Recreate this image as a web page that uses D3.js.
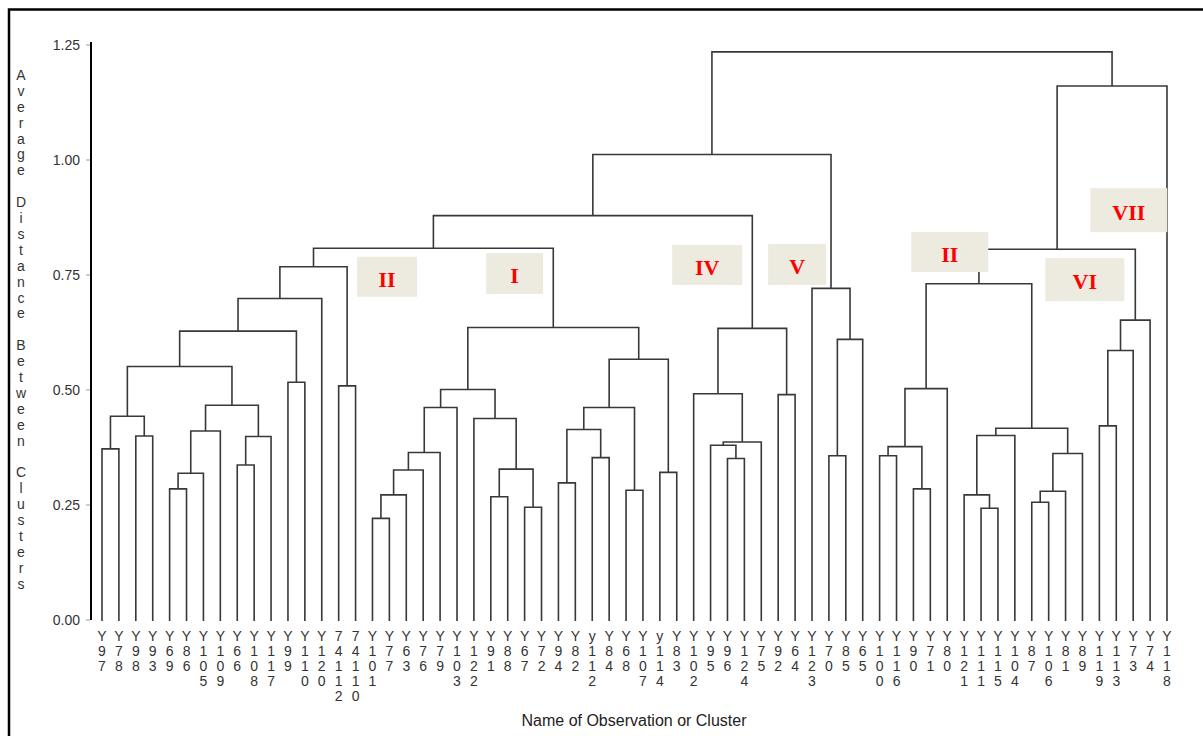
<!DOCTYPE html>
<html>
<head>
<meta charset="utf-8">
<script src="https://cdnjs.cloudflare.com/ajax/libs/d3/7.9.0/d3.min.js"></script>
<style>
  html, body { margin: 0; padding: 0; background: #fff; }
  svg { display: block; }
</style>
</head>
<body>
<div id="chart"></div>
<script>
// Folhas na ordem do eixo X (exatamente como aparecem no gráfico)
const FOLHAS = [
  "Y97", "Y78", "Y98", "Y93", "Y69", "Y86", "Y105", "Y109", "Y66", "Y108",
  "Y117", "Y99", "Y110", "Y120", "74112", "74110", "Y101", "Y77", "Y63", "Y76",
  "Y79", "Y103", "Y122", "Y91", "Y88", "Y67", "Y72", "Y94", "Y82", "y112",
  "Y84", "Y68", "Y107", "y114", "Y83", "Y102", "Y95", "Y96", "Y124", "Y75",
  "Y92", "Y64", "Y123", "Y70", "Y85", "Y65", "Y100", "Y116", "Y90", "Y71",
  "Y80", "Y121", "Y111", "Y115", "Y104", "Y87", "Y106", "Y81", "Y89", "Y119",
  "Y113", "Y73", "Y74", "Y118",
];

// Fusões: [nó, filho A, filho B, distância média entre clusters]
const FUSOES = [
  // grupo II (esquerda)
  ["a1", "Y97", "Y78", 0.372],
  ["a2", "Y98", "Y93", 0.400],
  ["a3", "a1", "a2", 0.443],
  ["a4", "Y69", "Y86", 0.285],
  ["a5", "a4", "Y105", 0.319],
  ["a6", "a5", "Y109", 0.411],
  ["a7", "Y66", "Y108", 0.337],
  ["a8", "a7", "Y117", 0.399],
  ["a9", "a6", "a8", 0.467],
  ["a10", "a3", "a9", 0.551],
  ["a11", "Y99", "Y110", 0.517],
  ["a12", "a10", "a11", 0.628],
  ["a13", "a12", "Y120", 0.699],
  ["a14", "74112", "74110", 0.509],
  ["a15", "a13", "a14", 0.768],
  // grupo I
  ["b1", "Y101", "Y77", 0.221],
  ["b2", "b1", "Y63", 0.272],
  ["b3", "b2", "Y76", 0.326],
  ["b4", "b3", "Y79", 0.364],
  ["b5", "b4", "Y103", 0.462],
  ["b6", "Y91", "Y88", 0.268],
  ["b7", "Y67", "Y72", 0.245],
  ["b8", "b6", "b7", 0.328],
  ["b9", "Y122", "b8", 0.438],
  ["b10", "b5", "b9", 0.501],
  ["b11", "Y94", "Y82", 0.298],
  ["b12", "y112", "Y84", 0.353],
  ["b13", "b11", "b12", 0.414],
  ["b14", "Y68", "Y107", 0.282],
  ["b15", "b13", "b14", 0.462],
  ["b16", "y114", "Y83", 0.321],
  ["b17", "b15", "b16", 0.567],
  ["b18", "b10", "b17", 0.636],
  ["p1", "a15", "b18", 0.808],
  // grupo IV
  ["c1", "Y96", "Y124", 0.351],
  ["c2", "Y95", "c1", 0.380],
  ["c3", "c2", "Y75", 0.387],
  ["c4", "Y102", "c3", 0.492],
  ["c5", "Y92", "Y64", 0.490],
  ["c6", "c4", "c5", 0.634],
  ["p2", "p1", "c6", 0.879],
  // grupo V
  ["d1", "Y70", "Y85", 0.357],
  ["d2", "d1", "Y65", 0.610],
  ["d3", "Y123", "d2", 0.721],
  ["p3", "p2", "d3", 1.012],
  // grupo II (direita)
  ["e1", "Y100", "Y116", 0.357],
  ["e2", "Y90", "Y71", 0.285],
  ["e3", "e1", "e2", 0.377],
  ["e4", "e3", "Y80", 0.503],
  ["e5", "Y111", "Y115", 0.243],
  ["e6", "Y121", "e5", 0.272],
  ["e7", "e6", "Y104", 0.401],
  ["e8", "Y87", "Y106", 0.256],
  ["e9", "e8", "Y81", 0.280],
  ["e10", "e9", "Y89", 0.362],
  ["e11", "e7", "e10", 0.417],
  ["e12", "e4", "e11", 0.731],
  // grupo VI
  ["f1", "Y119", "Y113", 0.422],
  ["f2", "f1", "Y73", 0.586],
  ["f3", "f2", "Y74", 0.652],
  ["p4", "e12", "f3", 0.806],
  // grupo VII (Y118 sozinho) e raiz
  ["p5", "p4", "Y118", 1.161],
  ["raiz", "p3", "p5", 1.235],
];

const TICKS_Y = [0, 0.25, 0.5, 0.75, 1.0, 1.25];

// Rótulos dos grupos (caixas bege com algarismos romanos)
const GRUPOS = ["II", "I", "IV", "V", "II", "VI", "VII"];

const TITULO_Y = "Average Distance Between Clusters";
const TITULO_X = "Name of Observation or Cluster";

// --- layout ---
const LARGURA = 1203, ALTURA = 736;
const COR_LINHA = "#383838";
const FONTE = "'Liberation Sans', Arial, sans-serif";

// posição das caixas em unidades dos dados: índice da folha (centro), distância (centro), tamanho em px
const CAIXAS = [
  { i: 16.86, d: 0.746, w: 60, h: 40 },
  { i: 24.41, d: 0.753, w: 57, h: 41 },
  { i: 35.80, d: 0.772, w: 70, h: 40 },
  { i: 41.12, d: 0.773, w: 58, h: 41 },
  { i: 50.15, d: 0.800, w: 77, h: 40 },
  { i: 58.14, d: 0.740, w: 79, h: 43 },
  { i: 60.74, d: 0.891, w: 77, h: 44 },
];

const svg = d3.select("#chart").append("svg")
  .attr("width", LARGURA)
  .attr("height", ALTURA)
  .attr("viewBox", `0 0 ${LARGURA} ${ALTURA}`);

// moldura (só topo e esquerda aparecem na imagem)
svg.append("path")
  .attr("d", `M9,${ALTURA} V9.5 H${LARGURA}`)
  .attr("fill", "none")
  .attr("stroke", "#000")
  .attr("stroke-width", 2.5);

const x = d3.scalePoint().domain(FOLHAS).range([102, 1167]);
const y = d3.scaleLinear().domain([0, 1.25]).range([620, 45]);

// --- monta a hierarquia a partir das fusões ---
const nos = {};
FOLHAS.forEach(nome => { nos[nome] = { nome, dist: 0 }; });
FUSOES.forEach(([nome, a, b, dist]) => {
  nos[nome] = { nome, dist, children: [nos[a], nos[b]] };
});
const raiz = d3.hierarchy(nos["raiz"]);
raiz.eachAfter(n => {
  n.px = n.children ? d3.mean(n.children, c => c.px) : x(n.data.nome);
});

// --- elos em forma de cotovelo ---
const gElos = svg.append("g")
  .attr("fill", "none")
  .attr("stroke", COR_LINHA)
  .attr("stroke-width", 1.6);

raiz.descendants().filter(n => n.children).forEach(n => {
  const [a, b] = n.children;
  const yn = y(n.data.dist);
  gElos.append("path")
    .attr("d", `M${a.px},${y(a.data.dist) + (a.children ? 0 : 1)} V${yn} H${b.px} V${y(b.data.dist) + (b.children ? 0 : 1)}`);
});

// --- eixo Y ---
const gEixo = svg.append("g");
gEixo.append("line")
  .attr("x1", 91).attr("x2", 91)
  .attr("y1", y(1.25) - 3).attr("y2", y(0))
  .attr("stroke", "#000").attr("stroke-width", 2);

gEixo.selectAll("line.tick")
  .data(TICKS_Y)
  .join("line")
  .attr("class", "tick")
  .attr("x1", 86).attr("x2", 90)
  .attr("y1", d => y(d)).attr("y2", d => y(d))
  .attr("stroke", "#999").attr("stroke-width", 1);

gEixo.selectAll("text")
  .data(TICKS_Y)
  .join("text")
  .attr("x", 80)
  .attr("y", d => y(d))
  .attr("dy", "0.35em")
  .attr("text-anchor", "end")
  .attr("font-family", FONTE)
  .attr("font-size", 14)
  .attr("fill", "#333")
  .text(d => d3.format(".2f")(d));

// título do eixo Y: letras empilhadas
svg.append("g").selectAll("text")
  .data(TITULO_Y.split(""))
  .join("text")
  .attr("x", 21)
  .attr("y", (d, i) => 75 + i * 15.9)
  .attr("dy", "0.35em")
  .attr("text-anchor", "middle")
  .attr("font-family", FONTE)
  .attr("font-size", 14)
  .attr("fill", "#333")
  .text(d => d);

// --- rótulos das folhas (caracteres empilhados) ---
const gFolhas = svg.append("g")
  .attr("font-family", FONTE)
  .attr("font-size", 14)
  .attr("fill", "#333")
  .attr("text-anchor", "middle");

FOLHAS.forEach(nome => {
  nome.split("").forEach((c, i) => {
    gFolhas.append("text")
      .attr("x", x(nome))
      .attr("y", 636 + i * 15)
      .attr("dy", "0.35em")
      .text(c);
  });
});

svg.append("text")
  .attr("x", 634)
  .attr("y", 720)
  .attr("dy", "0.35em")
  .attr("text-anchor", "middle")
  .attr("font-family", FONTE)
  .attr("font-size", 16)
  .attr("fill", "#222")
  .text(TITULO_X);

// --- caixas dos grupos (por cima das linhas, como no original) ---
const passo = x.step();
const gCaixas = svg.append("g");
GRUPOS.forEach((rotulo, k) => {
  const c = CAIXAS[k];
  const cx = x.range()[0] + c.i * passo;
  const cy = y(c.d);
  gCaixas.append("rect")
    .attr("x", cx - c.w / 2)
    .attr("y", cy - c.h / 2)
    .attr("width", c.w)
    .attr("height", c.h)
    .attr("fill", "#edeae0");
  gCaixas.append("text")
    .attr("x", cx)
    .attr("y", cy + 2)
    .attr("dy", "0.35em")
    .attr("text-anchor", "middle")
    .attr("font-family", "'Liberation Serif', 'Times New Roman', serif")
    .attr("font-weight", "bold")
    .attr("font-size", 22)
    .attr("fill", "#ff0000")
    .text(rotulo);
});
</script>
</body>
</html>
